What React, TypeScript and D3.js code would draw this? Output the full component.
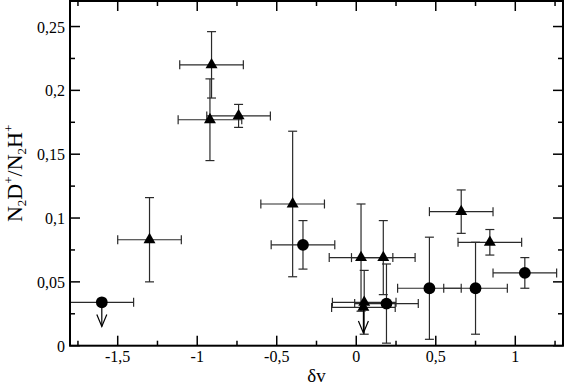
import React from "react";
import * as d3 from "d3";

const W = 564;
const H = 387;
const M = { left: 70, right: 1, top: 1, bottom: 41.3 };

// filled circles: value, velocity shift, half error bars (null = upper limit)
const circleDv = [-1.6, -0.335, 0.19, 0.46, 0.75, 1.06];
const circleRatio = [0.034, 0.079, 0.033, 0.045, 0.045, 0.057];
const circleErrY = [null, 0.019, 0.031, 0.04, 0.036, 0.012];
const circleErrX = [0.2, 0.2, 0.2, 0.2, 0.2, 0.2];
const circleLimitTo = [0.015, null, null, null, null, null];

// filled triangles
const triDv = [-1.3, -0.91, -0.92, -0.74, -0.4, 0.03, 0.17, 0.05, 0.045, 0.66, 0.84];
const triRatio = [0.083, 0.22, 0.177, 0.18, 0.111, 0.069, 0.069, 0.034, 0.03, 0.105, 0.081];
const triErrY = [0.033, 0.026, 0.032, 0.009, 0.057, 0.042, 0.029, 0.025, null, 0.017, 0.01];
const triErrX = [0.2, 0.2, 0.2, 0.2, 0.2, 0.2, 0.2, 0.2, 0.2, 0.2, 0.2];
const triLimitTo = [null, null, null, null, null, null, null, null, 0.01, null, null];

const xMajor = [-1.5, -1, -0.5, 0, 0.5, 1];
const xMinor = [-1.75, -1.25, -0.75, -0.25, 0.25, 0.75, 1.25];
const yMajor = [0, 0.05, 0.1, 0.15, 0.2, 0.25];
const yMinor = [0.025, 0.075, 0.125, 0.175, 0.225];

const fmt = (v: number) => String(v).replace(".", ",");

const FONT = "'Liberation Serif', 'Times New Roman', 'DejaVu Serif', serif";
const ERR = "#2a2a2a";
const txt = { fontFamily: FONT };

export default function App() {
  const x = d3.scaleLinear().domain([-1.8, 1.3]).range([M.left, W - M.right]);
  const y = d3.scaleLinear().domain([0, 0.27]).range([H - M.bottom, M.top]);
  const x0 = x.range()[0], x1 = x.range()[1];
  const y0 = y.range()[0], y1 = y.range()[1];

  const triPath = d3.symbol().type(d3.symbolTriangle).size(62)()!;

  const errBars = (
    dv: number[], r: number[], ex: number[], ey: (number | null)[], lim: (number | null)[], key: string
  ) =>
    dv.map((d, i) => {
      const cx = x(d), cy = y(r[i]);
      const xl = Math.max(x(d - ex[i]), x0), xr = Math.min(x(d + ex[i]), x1);
      const e = ey[i];
      const l = lim[i];
      return (
        <g key={key + i} stroke={ERR} strokeWidth={1.2} fill="none">
          <line x1={xl} x2={xr} y1={cy} y2={cy} />
          {x(d - ex[i]) >= x0 && <line x1={xl} x2={xl} y1={cy - 4.5} y2={cy + 4.5} />}
          <line x1={xr} x2={xr} y1={cy - 4.5} y2={cy + 4.5} />
          {e != null && (
            <>
              <line x1={cx} x2={cx} y1={y(r[i] + e)} y2={y(r[i] - e)} />
              <line x1={cx - 4.5} x2={cx + 4.5} y1={y(r[i] + e)} y2={y(r[i] + e)} />
              <line x1={cx - 4.5} x2={cx + 4.5} y1={y(r[i] - e)} y2={y(r[i] - e)} />
            </>
          )}
          {l != null && (
            <>
              <line x1={cx} x2={cx} y1={cy} y2={y(l)} stroke="#000" />
              <path d={`M${cx - 5},${y(l) - 12}L${cx},${y(l)}L${cx + 5},${y(l) - 12}`} stroke="#000" />
            </>
          )}
        </g>
      );
    });

  return (
    <svg width={W} height={H} style={{ position: "absolute", left: 0, top: 0, background: "#fff" }}>
      {errBars(circleDv, circleRatio, circleErrX, circleErrY, circleLimitTo, "c")}
      {errBars(triDv, triRatio, triErrX, triErrY, triLimitTo, "t")}

      {circleDv.map((d, i) => (
        <circle key={"cm" + i} cx={x(d)} cy={y(circleRatio[i])} r={5.9} fill="#000" />
      ))}
      {triDv.map((d, i) => (
        <path key={"tm" + i} d={triPath} transform={`translate(${x(d)},${y(triRatio[i])})`} fill="#000" />
      ))}

      {/* ticks on all sides, pointing in */}
      <g stroke="#000" strokeWidth={1.5}>
        {xMajor.map((v) => (
          <g key={"xM" + v}>
            <line x1={x(v)} x2={x(v)} y1={y0} y2={y0 - 10} />
            <line x1={x(v)} x2={x(v)} y1={y1} y2={y1 + 10} />
          </g>
        ))}
        {xMinor.map((v) => (
          <g key={"xm" + v}>
            <line x1={x(v)} x2={x(v)} y1={y0} y2={y0 - 5} />
            <line x1={x(v)} x2={x(v)} y1={y1} y2={y1 + 5} />
          </g>
        ))}
        {yMajor.map((v) => (
          <g key={"yM" + v}>
            <line x1={x0} x2={x0 + 10} y1={y(v)} y2={y(v)} />
            <line x1={x1} x2={x1 - 10} y1={y(v)} y2={y(v)} />
          </g>
        ))}
        {yMinor.map((v) => (
          <g key={"ym" + v}>
            <line x1={x0} x2={x0 + 5} y1={y(v)} y2={y(v)} />
            <line x1={x1} x2={x1 - 5} y1={y(v)} y2={y(v)} />
          </g>
        ))}
      </g>
      <rect x={x0} y={y1} width={x1 - x0} height={y0 - y1} fill="none" stroke="#000" strokeWidth={2} />

      <g fill="#000">
        {xMajor.map((v) => (
          <text key={"xl" + v} x={x(v)} y={y0 + 16} textAnchor="middle" style={{ ...txt, fontSize: 16 }}>{fmt(v)}</text>
        ))}
        {yMajor.map((v) => (
          <text key={"yl" + v} x={x0 - 5} y={y(v) + 6} textAnchor="end" style={{ ...txt, fontSize: 16 }}>{fmt(v)}</text>
        ))}
      </g>

      <text x={(x0 + x1) / 2} y={382} textAnchor="middle" style={{ ...txt, fontSize: 19 }}>δv</text>
      <text transform={`translate(22,${(y0 + y1) / 2}) rotate(-90)`} textAnchor="middle" style={{ ...txt, fontSize: 22 }}>
        N<tspan style={{ fontSize: 13 }} dy={4}>2</tspan>
        <tspan dy={-4}>D</tspan>
        <tspan style={{ fontSize: 13 }} dy={-9}>+</tspan>
        <tspan dy={9}>/N</tspan>
        <tspan style={{ fontSize: 13 }} dy={4}>2</tspan>
        <tspan dy={-4}>H</tspan>
        <tspan style={{ fontSize: 13 }} dy={-9}>+</tspan>
      </text>
    </svg>
  );
}
